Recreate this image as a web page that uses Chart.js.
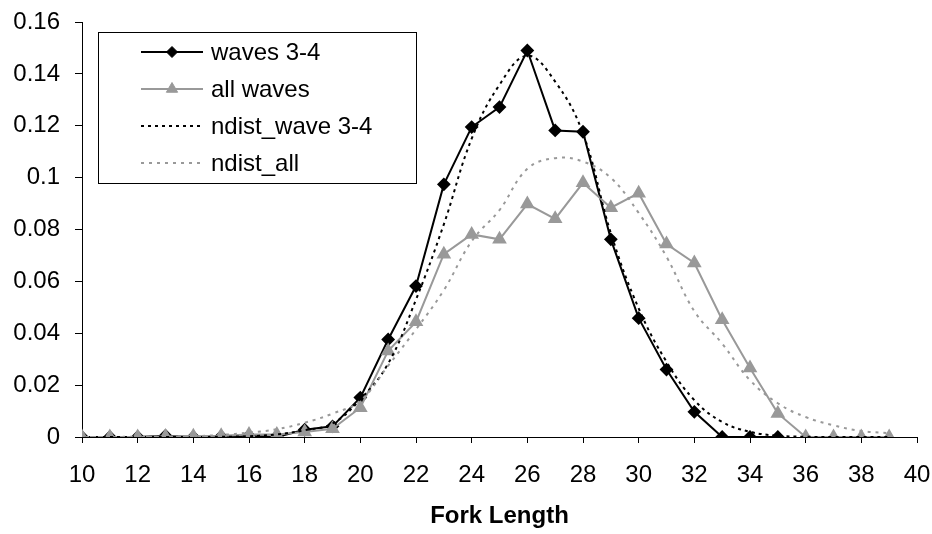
<!DOCTYPE html>
<html>
<head>
<meta charset="utf-8">
<script src="https://cdn.jsdelivr.net/npm/chart.js@4/dist/chart.umd.min.js"></script>
<style>
html,body{margin:0;padding:0;background:#fff;}
#wrap{width:932px;height:534px;position:relative;}
</style>
</head>
<body>
<div id="wrap"><canvas id="c" width="932" height="534"></canvas></div>
<script>
// Fork length categories (x values)
const forkLengths = [10,11,12,13,14,15,16,17,18,19,20,21,22,23,24,25,26,27,28,29,30,31,32,33,34,35,36,37,38,39];
// waves 3-4 (observed), lengths 10..35
const waves34 = [0,0,0,0.0005,0,0.0002,0.0005,0,0.0028,0.0041,0.0152,0.0376,0.0582,0.0974,0.1195,0.1272,0.149,0.1182,0.1177,0.0762,0.0458,0.026,0.0097,0,0,0];
// all waves (observed), lengths 10..39
const allWaves = [0,0,0,0.0002,0.0003,0.0005,0.001,0.001,0.0019,0.0032,0.0113,0.0332,0.0444,0.0705,0.0781,0.0762,0.0898,0.0841,0.098,0.0884,0.094,0.0744,0.0671,0.0452,0.0266,0.0091,0,0,0,0];
// fitted normal curve, waves 3-4
const ndistWave34 = [0,0,0,0,0,0.0001,0.0003,0.001,0.0026,0.0052,0.0145,0.0283,0.053,0.082,0.115,0.1358,0.147,0.137,0.117,0.0786,0.0496,0.029,0.0142,0.0058,0.002,0.0005,0.0001,0,0,0];
// fitted normal curve, all waves
const ndistAll = [0,0,0.0001,0.0001,0.0003,0.0008,0.0017,0.003,0.0055,0.009,0.014,0.0275,0.0415,0.0566,0.0755,0.0875,0.1034,0.1075,0.1062,0.0999,0.0864,0.0695,0.0485,0.036,0.0219,0.013,0.0077,0.0045,0.0023,0.0015];
const seriesNames = ["waves 3-4","all waves","ndist_wave 3-4","ndist_all"];
const xTitle = "Fork Length";

const pts = (arr) => arr.map((v,i) => ({x: forkLengths[i], y: v}));
const FONT = '"Liberation Sans", Arial, sans-serif';
const FS = 24;
const GREY = '#999999';

const legendPlugin = {
  id: 'boxLegend',
  afterDraw(chart) {
    const ctx = chart.ctx;
    const bx = 98, by = 32, bw = 318, bh = 151;
    ctx.save();
    ctx.fillStyle = '#fff';
    ctx.fillRect(bx, by, bw, bh);
    ctx.strokeStyle = '#000';
    ctx.lineWidth = 1;
    ctx.strokeRect(bx + 0.5, by + 0.5, bw, bh);
    const rows = [52, 89, 126, 163];
    const x1 = 141, x2 = 203, xm = 172, tx = 211;
    chart.data.datasets.forEach((ds, i) => {
      const y = rows[i];
      ctx.save();
      ctx.strokeStyle = ds.borderColor;
      ctx.lineWidth = ds.borderWidth;
      ctx.setLineDash(ds.borderDash || []);
      ctx.beginPath();
      ctx.moveTo(x1, y); ctx.lineTo(x2, y);
      ctx.stroke();
      ctx.restore();
      if (ds.pointStyle && ds.pointRadius > 0) {
        ctx.fillStyle = ds.pointBackgroundColor;
        ctx.strokeStyle = ds.pointBorderColor;
        ctx.lineWidth = 1;
        ctx.setLineDash([]);
        Chart.helpers.drawPoint(ctx, {pointStyle: ds.pointStyle, radius: ds.pointRadius, borderWidth: 1}, xm, y);
      }
      ctx.fillStyle = '#000';
      ctx.font = FS + 'px ' + FONT;
      ctx.textBaseline = 'middle';
      ctx.textAlign = 'left';
      ctx.fillText(seriesNames[i], tx, y + 1);
    });
    ctx.restore();
  }
};

new Chart(document.getElementById('c'), {
  type: 'line',
  data: {
    datasets: [
      {label: seriesNames[0], data: pts(waves34), borderColor: '#000', backgroundColor: '#000', borderWidth: 2,
       pointStyle: 'rectRot', pointRadius: 5.5, pointBackgroundColor: '#000', pointBorderColor: '#000', tension: 0, order: 4},
      {label: seriesNames[1], data: pts(allWaves), borderColor: GREY, backgroundColor: GREY, borderWidth: 2,
       pointStyle: 'triangle', pointRadius: 6.5, pointBackgroundColor: GREY, pointBorderColor: GREY, tension: 0, order: 3},
      {label: seriesNames[2], data: pts(ndistWave34), borderColor: '#000', borderWidth: 2, borderDash: [3,4],
       pointRadius: 0, tension: 0.4, order: 2},
      {label: seriesNames[3], data: pts(ndistAll), borderColor: GREY, borderWidth: 2, borderDash: [3,5],
       pointRadius: 0, tension: 0.4, order: 1}
    ]
  },
  options: {
    responsive: false,
    animation: false,
    devicePixelRatio: 1,
    layout: {padding: {top: 22, right: 15, left: 0, bottom: 0}},
    plugins: {legend: {display: false}, tooltip: {enabled: false}},
    elements: {line: {fill: false}},
    scales: {
      x: {
        type: 'linear', min: 10, max: 40,
        ticks: {stepSize: 2, color: '#000', font: {family: FONT, size: FS}, padding: 18, maxRotation: 0, autoSkip: false},
        grid: {drawOnChartArea: false, drawTicks: true, tickLength: 6, color: '#000'},
        border: {color: '#000', width: 1},
        title: {display: true, text: xTitle, color: '#000', font: {family: FONT, size: FS, weight: 'bold'}, padding: {top: 0, bottom: 3}},
        afterFit(s) { s.height = 97; s.paddingLeft = 0; s.paddingRight = 0; }
      },
      y: {
        min: 0, max: 0.16,
        ticks: {stepSize: 0.02, color: '#000', font: {family: FONT, size: FS}, padding: 15,
                callback: (v) => String(Number(v.toFixed(2)))},
        grid: {drawOnChartArea: false, drawTicks: true, tickLength: 7, color: '#000'},
        border: {color: '#000', width: 1},
        afterFit(s) { s.width = 82; s.paddingTop = 0; s.paddingBottom = 0; }
      }
    }
  },
  plugins: [legendPlugin]
});
</script>
</body>
</html>
